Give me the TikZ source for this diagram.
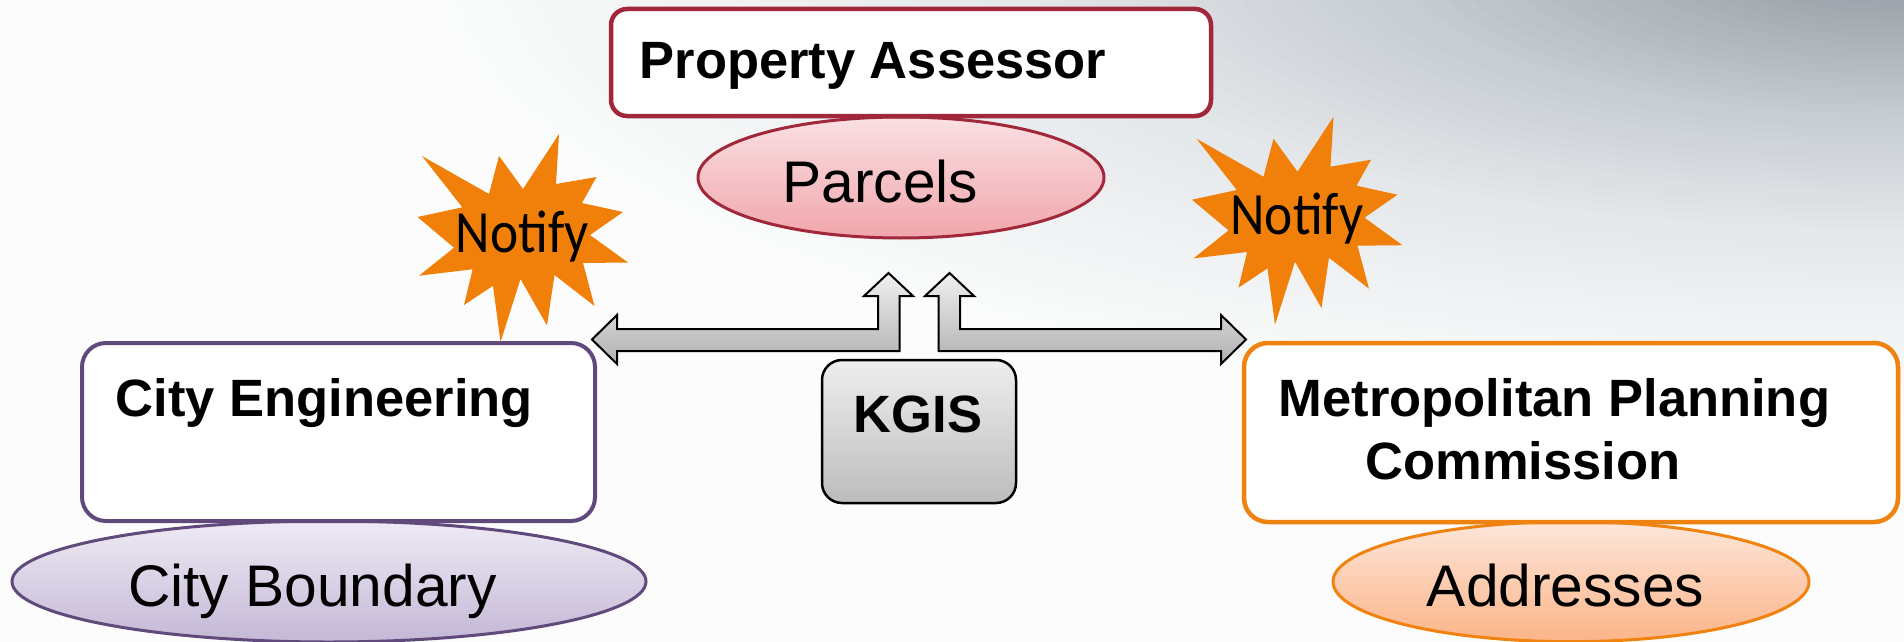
\documentclass[tikz,border=0pt]{standalone}
\usepackage{fontspec}
\setmainfont{Liberation Sans}
\newfontfamily\notifyfont[FakeStretch=0.89]{Carlito}
\usetikzlibrary{shapes.geometric}
\definecolor{bgbase}{RGB}{252,252,252}
\definecolor{redb}{RGB}{160,40,58}
\definecolor{purb}{RGB}{96,74,123}
\definecolor{orb}{RGB}{240,130,15}
\definecolor{starorange}{RGB}{240,128,10}
\definecolor{parctop}{RGB}{250,224,227}
\definecolor{parcbot}{RGB}{240,166,172}
\definecolor{cbtop}{RGB}{238,234,244}
\definecolor{cbbot}{RGB}{196,184,214}
\definecolor{addrtop}{RGB}{253,230,218}
\definecolor{addrbot}{RGB}{251,180,136}
\definecolor{kgistop}{RGB}{238,238,238}
\definecolor{kgisbot}{RGB}{188,188,188}
\definecolor{arrowtop}{RGB}{240,240,240}
\definecolor{arrowbot}{RGB}{176,176,176}
\begin{document}
\begin{tikzpicture}[x=1pt,y=-1pt,
  lbl/.style={inner sep=0pt, anchor=base, text=black},
  titlefont/.style={font=\fontsize{52.5}{63}\selectfont\bfseries},
  ovalfont/.style={font=\fontsize{58.7}{70}\selectfont},
  notfont/.style={font=\notifyfont\fontsize{60}{72}\selectfont},
  rbox/.style={rectangle, rounded corners=#1, fill=white, inner sep=0pt},
  oval/.style={ellipse, inner sep=0pt, line width=3pt},
  blockarrow/.style={draw=black, line width=2pt, top color=arrowtop, bottom color=arrowbot, line join=miter},
  burst/.style={fill=starorange, draw=none},
  burstpic/.pic={
    \fill[burst] (422,156) -- (489,194) -- (499,156) -- (523,189) -- (559,134) -- (556,184)
      -- (596.5,177) -- (582,203) -- (623,212) -- (590,235) -- (628,262.5) -- (583,263)
      -- (594.5,306) -- (554.5,275) -- (547,325.5) -- (520.5,279) -- (500.5,342) -- (493,285.7)
      -- (464,305) -- (472.6,269.3) -- (419,275.7) -- (454,247.7) -- (417.5,217) -- (462.3,207.3) -- cycle;
  }
]
\useasboundingbox (0,0) rectangle (1904,642);
% background
\fill[bgbase] (0,0) rectangle (1904,642);
\begin{scope}
  \clip (0,0) rectangle (1904,642);
  \foreach \i in {0,...,60}{
    \pgfmathsetmacro\rr{1-\i/60}
    \pgfmathtruncatemacro\lum{\rr>=0.6 ? 232+20*(\rr-0.6)/0.4 : (\rr>=0.35 ? 205+27*(\rr-0.35)/0.25 : (\rr>=0.1 ? 165+40*(\rr-0.1)/0.25 : 160+5*\rr/0.1))}
    \pgfmathtruncatemacro\rc{\lum-7*(1-\rr)}
    \pgfmathtruncatemacro\bc{min(255,\lum+8*(1-\rr))}
    \definecolor{tmpc}{RGB}{\rc,\lum,\bc}
    \fill[tmpc] (1904,-40) ellipse [x radius=1500*\rr, y radius=460*\rr];
  }
\end{scope}

% ellipses
\node[oval, draw=redb, top color=parctop, bottom color=parcbot, minimum width=406pt, minimum height=121pt] (parcelsov) at (901,177.5) {};
\node[oval, draw=purb, top color=cbtop, bottom color=cbbot, minimum width=634pt, minimum height=121pt] (cbov) at (329,581.5) {};
\node[oval, draw=orb, top color=addrtop, bottom color=addrbot, minimum width=476pt, minimum height=120pt] (addrov) at (1571,581.7) {};

% boxes
\node[rbox=16pt, draw=redb, line width=4.5pt, minimum width=600pt, minimum height=107pt] (pabox) at (911,62.5) {};
\node[rbox=24pt, draw=purb, line width=4pt, minimum width=513pt, minimum height=178pt] (cebox) at (338.5,432) {};
\node[rbox=24pt, draw=orb, line width=4.5pt, minimum width=654pt, minimum height=179pt] (mpcbox) at (1571,432.5) {};
\node[rbox=20pt, draw=black, line width=2.5pt, top color=kgistop, bottom color=kgisbot, minimum width=194pt, minimum height=143pt] (kgisbox) at (919,431.5) {};

% block arrows
\draw[blockarrow] (592,339.5) -- (617,315) -- (617,329) -- (878,329) -- (878,296) -- (864,296)
  -- (888.5,273) -- (913,296) -- (899.5,296) -- (899.5,351) -- (617,351) -- (617,364) -- cycle;
\draw[blockarrow] (1246,339.5) -- (1221,315) -- (1221,329) -- (960,329) -- (960,296) -- (974,296)
  -- (949.5,273) -- (925,296) -- (938.5,296) -- (938.5,351) -- (1221,351) -- (1221,364) -- cycle;

% bursts
\pic (burstleft) at (0,0) {burstpic};
\pic (burstright) at (774.5,-17.3) {burstpic};

% texts
\node[lbl, titlefont] (patxt) at (873,78) {Property Assessor};
\node[lbl, ovalfont] (parcelstxt) at (880.5,202) {Parcels};
\node[lbl, titlefont] (cetxt) at (324.5,416) {City Engineering};
\node[lbl, ovalfont] (cbtxt) at (312.5,606) {City Boundary};
\node[lbl, titlefont] (kgistxt) at (918,432) {KGIS};
\node[lbl, titlefont] (mpctxta) at (1554.5,416) {Metropolitan Planning};
\node[lbl, titlefont] (mpctxtb) at (1523,479) {Commission};
\node[lbl, ovalfont] (addrtxt) at (1565.5,606) {Addresses};
\node[lbl, notfont] (notifya) at (522.5,252) {Notify};
\node[lbl, notfont] (notifyb) at (1297,234.7) {Notify};
\end{tikzpicture}
\end{document}
